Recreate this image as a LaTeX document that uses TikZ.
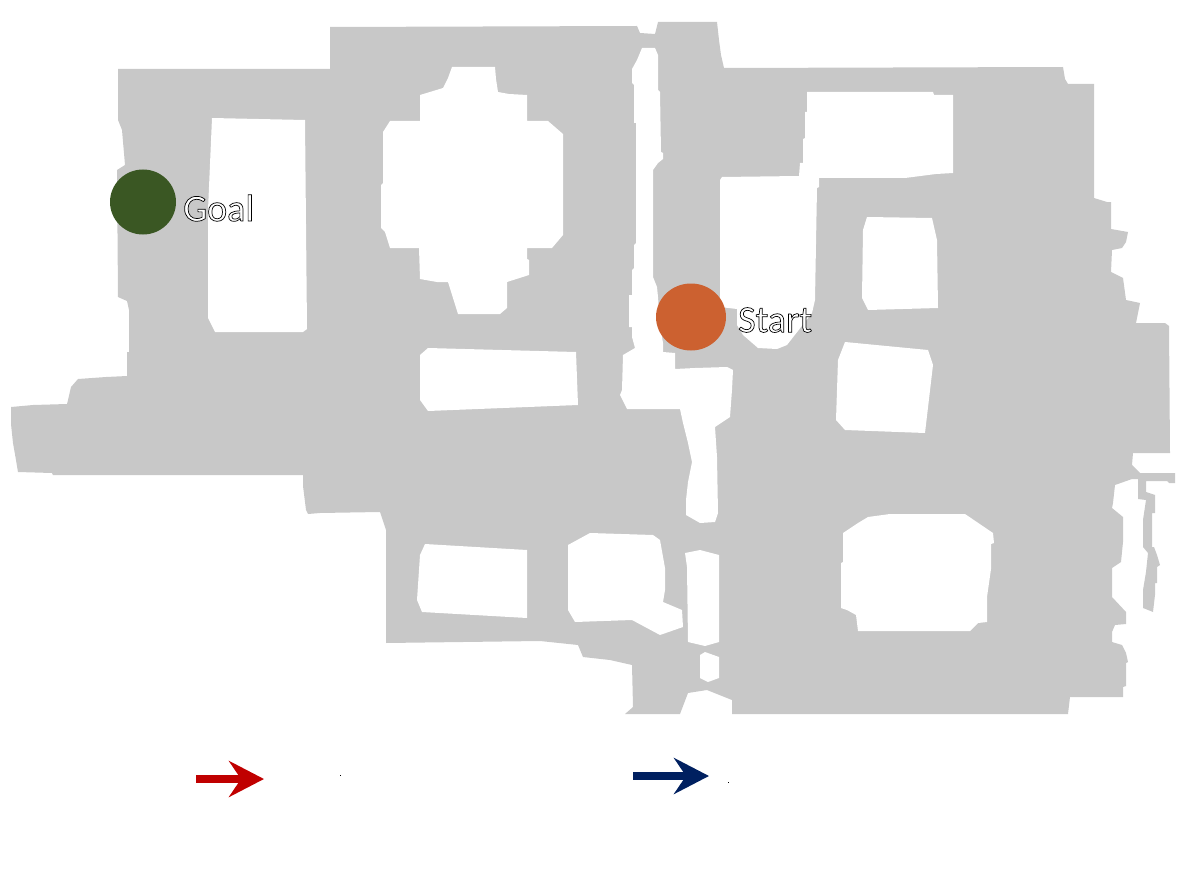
\documentclass[tikz,border=0pt]{standalone}
\usepackage{fontspec}
\setmainfont{Carlito}
\usetikzlibrary{arrows.meta}
\usetikzlibrary{shapes.geometric}
\definecolor{floorGrey}{HTML}{C8C8C8}
\definecolor{goalGreen}{HTML}{3A5723}
\definecolor{startOrange}{HTML}{CC6130}
\definecolor{arrowRed}{HTML}{C00000}
\definecolor{arrowBlue}{HTML}{002060}
\newcommand{\outlineText}[1]{\special{pdf:code q 1 1 1 rg 0 0 0 RG 0.7 w 2 Tr}#1\special{pdf:code Q}}
\tikzset{
	mapFloor/.style={
		fill=floorGrey
	},
	mapHole/.style={
		fill=white
	},
	markerNode/.style={
		ellipse,
		inner sep=0pt,
		minimum width=#1
	},
	labelNode/.style={
		anchor=west,
		inner sep=0pt,
		text=white,
		font=\fontsize{38}{38}\selectfont
	},
	legendArrow/.style={
		line width=7.5pt,
		-{Stealth[length=35pt, width=36pt, inset=12pt]}
	},
}
\begin{document}
\begin{tikzpicture}[x=1pt, y=-1pt]
\useasboundingbox (0,0) rectangle (1200,888);

\begin{scope}[]
    \fill[mapFloor] (118,69) -- (330,69) -- (330,27) -- (637,26) -- (640,33) -- (655,34) -- (658,22) -- (717,22)
        -- (719,40) -- (721,55) -- (724,68) -- (1063,67) -- (1065,79) -- (1068,84) -- (1094,84) -- (1094,198) -- (1107,202)
        -- (1111,202) -- (1111,229) -- (1128,232) -- (1126,242) -- (1122,248) -- (1112,250) -- (1111,272) -- (1123,278)
        -- (1126,300) -- (1140,303) -- (1138,313) -- (1136,323) -- (1165,323) -- (1169,326)
        -- (1170,453) -- (1133,453) -- (1132,465) -- (1140,473) -- (1175,473) -- (1175,483) -- (1169,483) -- (1167,481)
        -- (1146,481) -- (1146,492) -- (1155,495) -- (1155,513) -- (1152,513) -- (1152,547) -- (1154,547) -- (1157,555)
        -- (1160,565) -- (1157,567) -- (1157,583) -- (1155,583) -- (1155,595) -- (1153,612) -- (1143,608) -- (1143,590)
        -- (1146,572) -- (1148,553) -- (1143,547) -- (1143,520) -- (1146,500) -- (1138,499) -- (1138,479) -- (1132,479)
        -- (1115,485) -- (1113,503) -- (1112,508) -- (1123,517) -- (1123,542) -- (1121,562) -- (1112,568) -- (1112,597)
        -- (1126,612) -- (1126,624) -- (1115,625) -- (1112,632) -- (1112,642) -- (1122,645) -- (1126,653) -- (1128,662)
        -- (1126,663) -- (1126,686) -- (1123,687) -- (1123,697) -- (1070,697) -- (1068,714) -- (732,714) -- (732,700)
        -- (707,690) -- (688,693) -- (680,714) -- (625,714) -- (633,707) -- (632,665) -- (610,660) -- (583,657)
        -- (578,645) -- (540,641) -- (386,643) -- (386,530) -- (380,512) -- (320,513) -- (308,514) -- (306,510)
        -- (303,486) -- (303,475) -- (53,475) -- (52,473) -- (18,472) -- (16,460) -- (13,443) -- (11,424) -- (11,407)
        -- (33,405) -- (67,404) -- (68,400) -- (71,387) -- (78,379) -- (106,377) -- (127,376) -- (127,352) -- (129,352)
        -- (129,310) -- (127,301) -- (118,297) -- (117,170) -- (125,165) -- (122,130) -- (118,120) -- cycle;

    % rooms
    \fill[mapHole] (212,118) -- (305,120) -- (307,329) -- (303,332) -- (215,332) -- (208,318) -- (208,210) -- cycle;
    \fill[mapHole] (452,67) -- (495,67) -- (496,79) -- (498,92) -- (509,94) -- (527,95) -- (527,121) -- (548,121) -- (563,134)
        -- (563,235) -- (552,248) -- (527,248) -- (527,259) -- (529,260) -- (529,275) -- (507,282) -- (507,308) -- (500,314)
        -- (458,314) -- (448,282) -- (437,282) -- (420,279) -- (419,248) -- (390,248) -- (385,232) -- (381,228) -- (381,185)
        -- (383,183) -- (383,132) -- (390,121) -- (420,121) -- (420,95) -- (443,88) -- (448,78) -- cycle;
    \fill[mapHole] (428,348) -- (576,352) -- (578,405) -- (428,411) -- (420,400) -- (420,355) -- cycle;
    \fill[mapHole] (807,92) -- (933,92) -- (934,95) -- (953,95) -- (953,173) -- (936,174) -- (905,178) -- (819,178) -- (819,187)
        -- (817,188) -- (815,300) -- (812,313) -- (787,345) -- (777,349) -- (758,348) -- (743,335) -- (737,325) -- (737,309)
        -- (720,307) -- (720,180) -- (722,177) -- (799,176) -- (800,163) -- (803,163) -- (803,139) -- (805,138) -- (805,112)
        -- (807,112) -- cycle;
    \fill[mapHole] (867,217) -- (932,218) -- (937,240) -- (938,308) -- (868,310) -- (862,298) -- (863,230) -- cycle;
    \fill[mapHole] (845,342) -- (928,350) -- (933,365) -- (925,433) -- (845,430) -- (836,420) -- (838,360) -- cycle;
    \fill[mapHole] (868,517) -- (890,514) -- (965,514) -- (993,533) -- (994,543) -- (991,544) -- (991,569) -- (987,597)
        -- (987,622) -- (978,623) -- (970,631) -- (858,631) -- (856,615) -- (847,610) -- (841,608) -- (841,563) -- (843,562)
        -- (843,533) -- (858,523) -- cycle;
    \fill[mapHole] (425,544) -- (527,550) -- (527,618) -- (422,612) -- (417,600) -- (420,555) -- cycle;
    \fill[mapHole] (590,533) -- (653,535) -- (660,540) -- (665,568) -- (665,590) -- (663,602) -- (682,610) -- (683,627)
        -- (660,635) -- (632,620) -- (575,622) -- (568,610) -- (568,545) -- cycle;
    \fill[mapHole] (685,553) -- (700,550) -- (719,555) -- (719,642) -- (705,646) -- (688,642) -- (687,567) -- cycle;
    \fill[mapHole] (700,655) -- (705,652) -- (719,657) -- (719,678) -- (708,682) -- (700,678) -- cycle;

    % corridor
    \fill[mapHole] (642,48) -- (655,48) -- (658,55) -- (658,90) -- (660,92) -- (661,152) -- (663,153) -- (663,159)
        -- (658,163) -- (653,170) -- (653,277) -- (657,287) -- (658,297) -- (660,325) -- (663,343) -- (663,352) -- (675,353) -- (675,369)
        -- (695,368) -- (727,367) -- (733,370) -- (732,390) -- (730,417) -- (715,427) -- (717,457) -- (718,513)
        -- (715,522) -- (700,523) -- (686,515) -- (686,500) -- (688,482) -- (692,462) -- (688,443) -- (683,423)
        -- (680,409) -- (627,409) -- (620,395) -- (622,390) -- (623,355) -- (635,348) -- (632,337) -- (632,327) -- (629,327)
        -- (629,295) -- (632,295) -- (632,270) -- (634,268) -- (634,245) -- (636,243)
        -- (636,123) -- (634,123) -- (634,85) -- (632,83) -- (632,69) -- (637,60) -- cycle;
\end{scope}

\node[markerNode=66pt, minimum height=65pt, fill=goalGreen] (goalMark) at (143,202){};
\node[markerNode=70pt, minimum height=67pt, fill=startOrange] (startMark) at (691,317){};
\node[labelNode] (goalLabel) at (183,208){\outlineText{Goal}};
\node[labelNode] (startLabel) at (738,320){\outlineText{Start}};

\coordinate (redTail) at (196,779);
\coordinate (redTip) at (264,779);
\coordinate (blueTail) at (633,776);
\coordinate (blueTip) at (709,776);
\draw[legendArrow, arrowRed] (redTail) -- (redTip);
\draw[legendArrow, arrowBlue] (blueTail) -- (blueTip);

\fill[black] (340,775) rectangle (341,776);
\fill[black] (728,782) rectangle (729,783);

\end{tikzpicture}
\end{document}
